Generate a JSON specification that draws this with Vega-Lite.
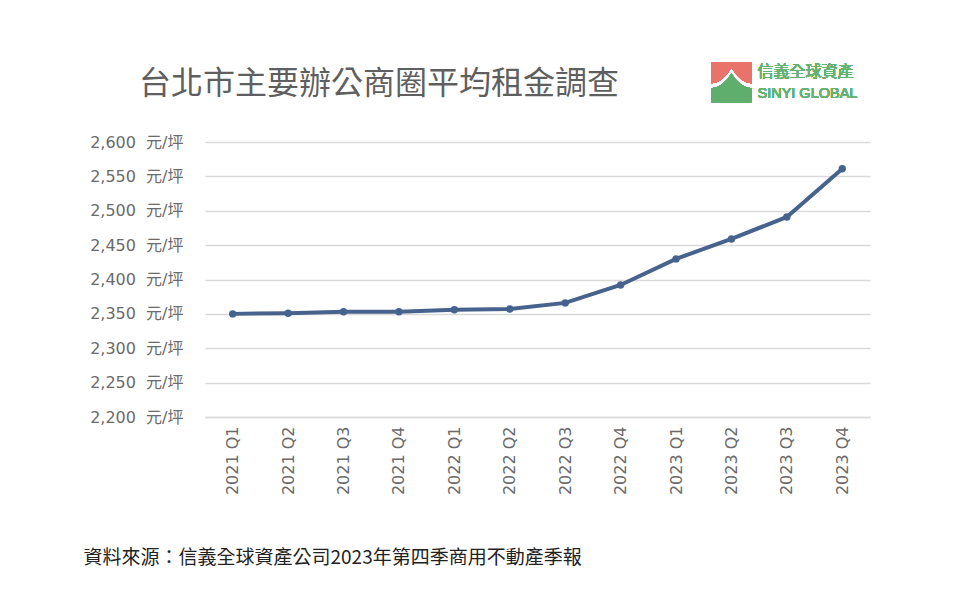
{
  "$schema": "https://vega.github.io/schema/vega-lite/v6.json",
  "autosize": "none",
  "width": 665,
  "height": 275,
  "padding": {"left": 205, "top": 142, "right": 90, "bottom": 188},
  "background": "white",
  "config": {"view": {"stroke": null}, "font": "Noto Sans CJK TC"},
  "title": {
    "text": "台北市主要辦公商圈平均租金調查",
    "anchor": "start",
    "frame": "group",
    "dx": -66,
    "dy": 81,
    "offset": 42,
    "fontSize": 32,
    "fontWeight": "normal",
    "color": "#5f5f5f",
    "font": "Noto Sans CJK TC"
  },
  "data": {
    "values": [
      {"quarter": "2021 Q1", "rent": 2350},
      {"quarter": "2021 Q2", "rent": 2351},
      {"quarter": "2021 Q3", "rent": 2353},
      {"quarter": "2021 Q4", "rent": 2353},
      {"quarter": "2022 Q1", "rent": 2356},
      {"quarter": "2022 Q2", "rent": 2357},
      {"quarter": "2022 Q3", "rent": 2366},
      {"quarter": "2022 Q4", "rent": 2392},
      {"quarter": "2023 Q1", "rent": 2430},
      {"quarter": "2023 Q2", "rent": 2459},
      {"quarter": "2023 Q3", "rent": 2491},
      {"quarter": "2023 Q4", "rent": 2561}
    ]
  },
  "encoding": {
    "x": {
      "field": "quarter",
      "type": "ordinal",
      "scale": {"type": "point", "padding": 0.5},
      "sort": null,
      "axis": {
        "labelAngle": 270,
        "labelAlign": "right",
        "labelBaseline": "middle",
        "labelPadding": 9,
        "labelFontSize": 16,
        "labelFont": "DejaVu Sans",
        "labelColor": "#6b6b6b",
        "ticks": false,
        "domainColor": "#d9d9d9",
        "domainWidth": 1.5,
        "title": "資料來源：信義全球資產公司2023年第四季商用不動產季報",
        "titleAnchor": "start",
        "titleAlign": "left",
        "titleBaseline": "middle",
        "titleX": -122,
        "titleY": 140,
        "titleFontSize": 19,
        "titleFontWeight": "normal",
        "titleColor": "#222222"
      }
    },
    "y": {
      "field": "rent",
      "type": "quantitative",
      "scale": {"domain": [2200, 2600], "nice": false, "zero": false},
      "axis": {
        "values": [2200, 2250, 2300, 2350, 2400, 2450, 2500, 2550, 2600],
        "labelExpr": "format(datum.value, ',') + '\u00a0\u00a0元/坪'",
        "labelFontSize": 16,
        "labelFont": "DejaVu Sans, Noto Sans CJK TC",
        "labelColor": "#6b6b6b",
        "labelPadding": 22,
        "ticks": false,
        "domain": false,
        "gridColor": "#d9d9d9",
        "gridWidth": 1.5,
        "title": null
      }
    }
  },
  "layer": [
    {
      "mark": {"type": "line", "color": "#46638d", "strokeWidth": 4}
    },
    {
      "mark": {"type": "point", "filled": true, "color": "#46638d", "size": 55, "opacity": 1}
    },
    {
      "mark": {"type": "point", "shape": "square", "filled": true, "color": "#e8736b", "size": 1600, "opacity": 1},
      "encoding": {"x": {"datum": "2023 Q2"}, "y": {"datum": 2687}}
    },
    {
      "mark": {"type": "point", "shape": "M-1,1 L-1,0.1 Q-0.4,0.05 0,-0.65 Q0.4,0.05 1,0.1 L1,1 Z", "filled": true, "color": "#ffffff", "size": 1600, "opacity": 1},
      "encoding": {"x": {"datum": "2023 Q2"}, "y": {"datum": 2687}}
    },
    {
      "mark": {"type": "point", "shape": "M-1,1 L-1,0.3 Q-0.4,0.25 0,-0.45 Q0.4,0.25 1,0.3 L1,1 Z", "filled": true, "color": "#5fae6e", "size": 1600, "opacity": 1},
      "encoding": {"x": {"datum": "2023 Q2"}, "y": {"datum": 2687}}
    },
    {
      "mark": {"type": "text", "text": "信義全球資產", "align": "left", "baseline": "middle", "dx": 26, "fontSize": 16, "color": "#66b274"},
      "encoding": {"x": {"datum": "2023 Q2"}, "y": {"datum": 2702}}
    },
    {
      "mark": {"type": "text", "text": "SINYI GLOBAL", "align": "left", "baseline": "middle", "dx": 26, "fontSize": 14.5, "color": "#66b274", "font": "Liberation Sans"},
      "encoding": {"x": {"datum": "2023 Q2"}, "y": {"datum": 2670}}
    }
  ]
}
